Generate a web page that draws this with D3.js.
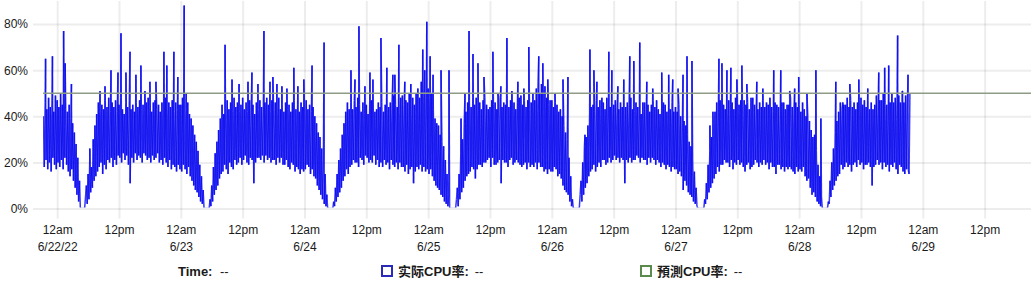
<!DOCTYPE html>
<html><head><meta charset="utf-8">
<script src="https://cdn.jsdelivr.net/npm/d3@7"></script>
<style>
body{margin:0;background:#fff;}
svg text{font-family:"Liberation Sans",Arial,"Noto Sans CJK SC",sans-serif;fill:#1a1a1a;}
</style></head><body>
<svg id="chart" width="1035" height="287"></svg>
<script>
// ---- data ----
const seriesStart = "2022-06-21 21:20";   // first sample of 实际CPU率
const stepMinutes = 10;                     // sampling interval of the base series
// one row = one hour (6 samples)
const cpu0621 = [40,18,46,21, 43,17,48,20,44,16, 47,22,42,19,49,17];
const cpu0622 = [47,20,44,18,50,21, 45,17,48,22,43,19, 42,16,45,14,39,17, 37,12,33,9,28,6, 22,3,12,0,0,0, 0,0,0,5,10,2,
 15,4,22,7,18,9, 30,12,36,14,41,16, 46,18,42,20,45,15, 43,19,47,17,44,21, 48,20,42,22,46,18, 44,21,47,19,42,23,
 45,22,48,20,43,24, 41,21,46,23,44,19, 47,11,43,22,45,20, 42,24,46,21,44,23, 47,22,43,20,45,24, 41,23,46,21,48,22,
 44,20,42,23,46,21, 47,22,43,24,45,20, 42,21,46,19,44,22, 48,20,43,18,46,21, 44,17,47,19,42,18, 46,16,43,19,45,17];
const cpu0623 = [45,16,48,19,44,17, 43,15,46,18,41,14, 39,12,36,10,32,8, 29,7,25,5,19,3, 14,2,8,0,0,0, 0,0,0,0,4,1,
 10,3,18,6,24,8, 29,10,34,13,39,15, 45,16,41,19,44,17, 47,15,43,20,46,18, 42,17,48,21,44,19, 46,20,42,22,45,19,
 48,21,43,23,46,20, 42,19,47,22,44,21, 45,11,41,20,46,22, 43,22,47,21,44,23, 41,20,46,23,48,21, 45,22,42,20,47,21,
 43,21,46,19,44,22, 48,20,43,22,45,19, 42,19,46,21,43,18, 45,17,42,20,46,19, 47,16,43,18,45,17, 42,15,46,17,44,16];
const cpu0624 = [44,17,47,19,43,18, 45,15,42,17,44,14, 40,13,37,10,33,8, 31,6,26,4,21,2, 15,1,6,0,0,0, 0,0,0,0,3,1,
 9,3,15,5,21,7, 26,9,32,12,37,14, 42,17,46,15,43,18, 46,19,43,21,47,20, 44,20,48,18,45,22, 42,21,46,19,44,23,
 45,22,41,20,47,21, 47,20,44,23,42,19, 43,21,46,18,44,20, 46,18,42,21,45,19, 48,20,44,17,46,21, 46,19,49,18,45,20,
 44,17,47,20,48,18, 49,18,45,16,47,19, 46,15,50,17,44,18, 48,11,45,16,50,18, 52,17,48,19,55,16, 55,18,60,16,52,17];
const cpu0625 = [52,15,48,17,50,14, 43,12,39,10,37,9, 36,8,32,6,29,5, 27,3,21,2,15,1, 6,0,0,0,0,0, 0,0,0,4,9,1,
 15,4,24,7,30,9, 37,12,42,14,46,15, 47,16,44,18,48,17, 45,13,48,17,44,19, 46,19,43,18,47,20, 48,20,45,21,43,22,
 44,18,47,22,45,19, 46,19,43,20,48,21, 48,11,44,21,46,20, 45,20,49,18,44,21, 47,22,44,19,46,20, 43,21,46,20,48,19,
 49,18,45,19,47,20, 44,17,47,20,43,18, 46,19,50,18,47,20, 52,17,55,20,50,18, 54,18,50,16,53,17, 48,15,45,17,47,16];
const cpu0626 = [47,16,44,18,46,17, 45,14,42,15,43,13, 40,10,36,8,33,7, 30,6,22,3,14,1, 4,0,0,0,0,0, 0,0,0,6,12,3,
 20,6,27,9,31,11, 36,14,41,16,44,17, 45,19,42,16,47,18, 44,20,47,18,43,21, 46,21,43,19,48,20, 48,22,44,20,46,21,
 45,23,47,21,43,22, 43,20,46,22,44,21, 47,11,44,21,46,20, 45,22,48,20,43,21, 42,21,46,23,44,22, 44,20,41,22,46,21,
 46,21,43,19,45,22, 42,20,45,22,47,21, 44,19,47,21,43,20, 41,18,44,20,46,19, 45,17,42,19,44,18, 43,16,46,18,42,17];
const cpu0627 = [44,17,42,15,45,16, 40,14,37,8,38,12, 36,10,32,7,29,6, 27,5,21,3,16,2, 9,1,0,0,0,0, 0,0,0,0,4,2,
 11,4,19,7,25,9, 31,11,37,13,42,15, 46,18,44,16,47,19, 48,19,45,21,43,20, 44,20,47,18,45,21, 46,17,43,20,48,19,
 49,21,45,19,47,20, 44,18,47,16,45,19, 46,20,43,17,48,18, 48,19,45,21,43,20, 43,18,46,20,44,19, 47,21,44,19,46,20,
 45,17,48,20,44,18, 42,18,46,15,45,19, 44,19,41,17,46,18, 46,16,43,18,45,17, 45,18,48,17,44,16, 43,15,46,18,44,16];
const cpu0628 = [45,17,42,16,46,18, 43,14,40,12,41,13, 38,9,34,6,31,7, 32,5,25,3,19,2, 14,1,5,0,0,0, 0,0,0,0,3,2,
 12,5,20,8,26,10, 33,12,38,14,42,15, 46,19,43,17,45,18, 45,20,48,18,44,19, 47,16,44,19,46,20, 43,18,46,21,44,19,
 48,20,45,17,47,19, 44,19,47,20,43,18, 46,10,43,18,45,19, 49,21,45,19,47,20, 47,17,50,20,45,18, 45,19,48,16,46,19,
 50,18,46,20,48,17, 47,15,49,19,46,18, 51,16,46,15,49,17, 44,17,15,50];

// isolated peaks of 实际CPU率
const spikeTimes = ["2022-06-21 21:45","2022-06-21 23:05","2022-06-22 01:15","2022-06-22 01:33","2022-06-22 02:46","2022-06-22 06:20","2022-06-22 08:19","2022-06-22 09:17","2022-06-22 10:27","2022-06-22 11:48","2022-06-22 12:23","2022-06-22 13:21","2022-06-22 14:08","2022-06-22 15:17","2022-06-22 16:15","2022-06-22 17:02","2022-06-22 18:00","2022-06-22 19:10","2022-06-22 20:43","2022-06-22 21:17","2022-06-22 22:39","2022-06-22 23:25",
"2022-06-23 00:39","2022-06-23 01:02","2022-06-23 08:35","2022-06-23 09:56","2022-06-23 11:18","2022-06-23 13:02","2022-06-23 13:48","2022-06-23 14:58","2022-06-23 16:08","2022-06-23 17:18","2022-06-23 17:52","2022-06-23 18:39","2022-06-23 19:37","2022-06-23 20:35","2022-06-23 21:56","2022-06-23 22:43","2022-06-23 23:52",
"2022-06-24 01:28","2022-06-24 03:48","2022-06-24 09:01","2022-06-24 09:48","2022-06-24 10:34","2022-06-24 11:44","2022-06-24 12:42","2022-06-24 13:17","2022-06-24 14:50","2022-06-24 15:59","2022-06-24 17:09","2022-06-24 17:32","2022-06-24 18:19","2022-06-24 19:28","2022-06-24 20:38","2022-06-24 22:57","2022-06-24 23:44",
"2022-06-25 00:23","2022-06-25 00:57","2022-06-25 02:30","2022-06-25 04:03","2022-06-25 06:23","2022-06-25 07:09","2022-06-25 07:56","2022-06-25 08:42","2022-06-25 09:40","2022-06-25 10:50","2022-06-25 12:34","2022-06-25 13:32","2022-06-25 14:07","2022-06-25 15:17","2022-06-25 16:15","2022-06-25 17:25","2022-06-25 18:34","2022-06-25 19:32","2022-06-25 21:28","2022-06-25 22:15","2022-06-25 23:13",
"2022-06-26 00:37","2022-06-26 02:10","2022-06-26 03:08","2022-06-26 06:26","2022-06-26 07:24","2022-06-26 08:10","2022-06-26 08:45","2022-06-26 09:43","2022-06-26 11:04","2022-06-26 11:39","2022-06-26 12:49","2022-06-26 13:58","2022-06-26 15:08","2022-06-26 15:55","2022-06-26 17:04","2022-06-26 18:26","2022-06-26 19:35","2022-06-26 21:20","2022-06-26 22:41","2022-06-26 23:28",
"2022-06-27 00:30","2022-06-27 01:28","2022-06-27 02:14","2022-06-27 03:12","2022-06-27 06:41","2022-06-27 07:16","2022-06-27 08:26","2022-06-27 09:01","2022-06-27 09:59","2022-06-27 10:45","2022-06-27 11:55","2022-06-27 12:53","2022-06-27 13:51","2022-06-27 15:47","2022-06-27 16:57","2022-06-27 19:04","2022-06-27 20:26","2022-06-27 22:10","2022-06-27 23:08","2022-06-27 23:55",
"2022-06-28 01:31","2022-06-28 03:15","2022-06-28 04:13","2022-06-28 07:07","2022-06-28 08:29","2022-06-28 09:50","2022-06-28 11:35","2022-06-28 13:19","2022-06-28 15:27","2022-06-28 16:36","2022-06-28 17:23","2022-06-28 19:07","2022-06-28 20:05","2022-06-28 21:08"];
const spikeValues = [65,66,77,63,54,26,51,53,60,59,76,59,68,58,62,51,55,55,68,62,68,57,
88,50,71,56,54,55,59,54,77,55,57,54,53,52,61,53,56,
62,72,60,56,79,53,59,56,74,61,58,58,71,55,54,69,81,
66,58,60,60,39,50,77,67,63,57,68,50,53,74,51,55,52,70,66,63,56,
50,56,57,32,69,60,55,48,68,60,53,56,66,64,72,55,52,59,58,56,
52,58,66,64,36,42,65,63,60,61,56,62,54,55,52,60,60,51,52,57,
50,60,39,55,46,54,56,52,59,61,62,75,51,58];

// 预测CPU率 (flat line)
const predTimes = ["2022-06-21 21:15","2022-06-29 21:00"];
const predValues = [50,50];

// axes
const yTicks = [0,20,40,60,80];
const xTickTimes = ["2022-06-22 00:00","2022-06-22 12:00","2022-06-23 00:00","2022-06-23 12:00","2022-06-24 00:00","2022-06-24 12:00","2022-06-25 00:00","2022-06-25 12:00","2022-06-26 00:00","2022-06-26 12:00","2022-06-27 00:00","2022-06-27 12:00","2022-06-28 00:00","2022-06-28 12:00","2022-06-29 00:00","2022-06-29 12:00"];
const xTickHour = ["12am","12pm","12am","12pm","12am","12pm","12am","12pm","12am","12pm","12am","12pm","12am","12pm","12am","12pm"];
const xTickDate = ["6/22/22","","6/23","","6/24","","6/25","","6/26","","6/27","","6/28","","6/29",""];
const legendLabels = ["Time","实际CPU率","預測CPU率"];
const legendValues = ["--","--","--"];

// ---- drawing ----
const parse = d3.timeParse("%Y-%m-%d %H:%M");
const L = 43, R = 1031, T = 1, B = 208.5;
const svg = d3.select("#chart");

const t0 = parse(seriesStart);
const baseValues = [].concat(cpu0621,cpu0622,cpu0623,cpu0624,cpu0625,cpu0626,cpu0627,cpu0628);
const basePts = baseValues.map((v,i)=>({t:new Date(+t0 + i*stepMinutes*60000), v}));
const spikePts = spikeTimes.map((s,i)=>({t:parse(s), v:spikeValues[i]}));
const actual = basePts.concat(spikePts).sort((a,b)=>a.t-b.t);
const pred = predTimes.map((s,i)=>({t:parse(s), v:predValues[i]}));

const x = d3.scaleTime().domain(d3.extent(pred, d=>d.t)).range([L,R]);
const y = d3.scaleLinear().domain([0,90]).range([B,T]);

const gridStroke = "rgba(0,0,0,0.07)";

// y axis + horizontal grid
const gy = svg.append("g").attr("transform",`translate(${L},0)`)
  .call(d3.axisLeft(y).tickValues(yTicks).tickFormat(d=>d+"%").tickSizeInner(-(R-L)).tickSizeOuter(0).tickPadding(15));
gy.select(".domain").remove();
gy.selectAll(".tick line").attr("x1",-10).attr("stroke",gridStroke).attr("stroke-width",2);
gy.selectAll(".tick text").attr("font-size",12).attr("fill","#1a1a1a")
  .style("font-family",'"Liberation Sans",Arial,sans-serif');

// x axis + vertical grid
const xTickDates = xTickTimes.map(parse);
const gx = svg.append("g").attr("transform",`translate(0,${B})`)
  .call(d3.axisBottom(x).tickValues(xTickDates).tickSizeInner(-(B-T)).tickSizeOuter(0).tickFormat(()=>""));
gx.select(".domain").remove();
gx.selectAll(".tick line").attr("y1",10).attr("stroke",gridStroke).attr("stroke-width",2);
gx.selectAll(".tick text").remove();
gx.selectAll(".tick").each(function(d,i){
  const t = d3.select(this).append("text").attr("text-anchor","middle")
    .attr("font-size",12).attr("fill","#1a1a1a")
    .style("font-family",'"Liberation Sans",Arial,sans-serif');
  t.append("tspan").attr("x",0).attr("y",21).attr("dy","0.35em").text(xTickHour[i]);
  if (xTickDate[i]) t.append("tspan").attr("x",0).attr("y",38.5).attr("dy","0.35em").text(xTickDate[i]);
});

// clip to plot area
svg.append("clipPath").attr("id","plotclip").append("rect")
  .attr("x",L).attr("y",T).attr("width",R-L).attr("height",B-T-1);

// actual series drawn segment by segment so overlapping strokes build up like a canvas line
const segs = d3.pairs(actual);
svg.append("g").attr("clip-path","url(#plotclip)")
  .selectAll("line").data(segs).join("line")
  .attr("x1",d=>x(d[0].t)).attr("y1",d=>y(d[0].v))
  .attr("x2",d=>x(d[1].t)).attr("y2",d=>y(d[1].v))
  .attr("stroke","#0808f0").attr("stroke-opacity",0.8)
  .attr("stroke-width",1.5).attr("stroke-linecap","butt");

const line = d3.line().x(d=>x(d.t)).y(d=>y(d.v));
svg.append("path").datum(pred)
  .attr("clip-path","url(#plotclip)")
  .attr("d",line).attr("fill","none")
  .attr("stroke","#8e9c86").attr("stroke-width",1.6);

// legend
const lg = svg.append("g").attr("font-size",13);
const legY = 271;
lg.append("text").attr("x",178).attr("y",legY).attr("dy","0.35em").attr("font-weight","bold").text(legendLabels[0]+":");
lg.append("text").attr("x",220).attr("y",legY).attr("dy","0.35em").attr("fill","#333").text(legendValues[0]);

const markers = [{x:382, c:"#2a2ab8"},{x:641, c:"#5a8a4c"}];
markers.forEach((m,i)=>{
  lg.append("rect").attr("x",m.x).attr("y",legY-5).attr("width",10).attr("height",10)
    .attr("fill","none").attr("stroke",m.c).attr("stroke-width",2);
  const tx = lg.append("text").attr("x",m.x+16).attr("y",legY).attr("dy","0.35em")
    .attr("font-weight","bold").style("font-family",'"Liberation Sans",Arial,"Noto Sans CJK SC",sans-serif')
    .text(legendLabels[i+1]+":");
  const w = tx.node().getComputedTextLength();
  lg.append("text").attr("x",m.x+16+w+6).attr("y",legY).attr("dy","0.35em").attr("fill","#333").text(legendValues[i+1]);
});
</script>
</body></html>
